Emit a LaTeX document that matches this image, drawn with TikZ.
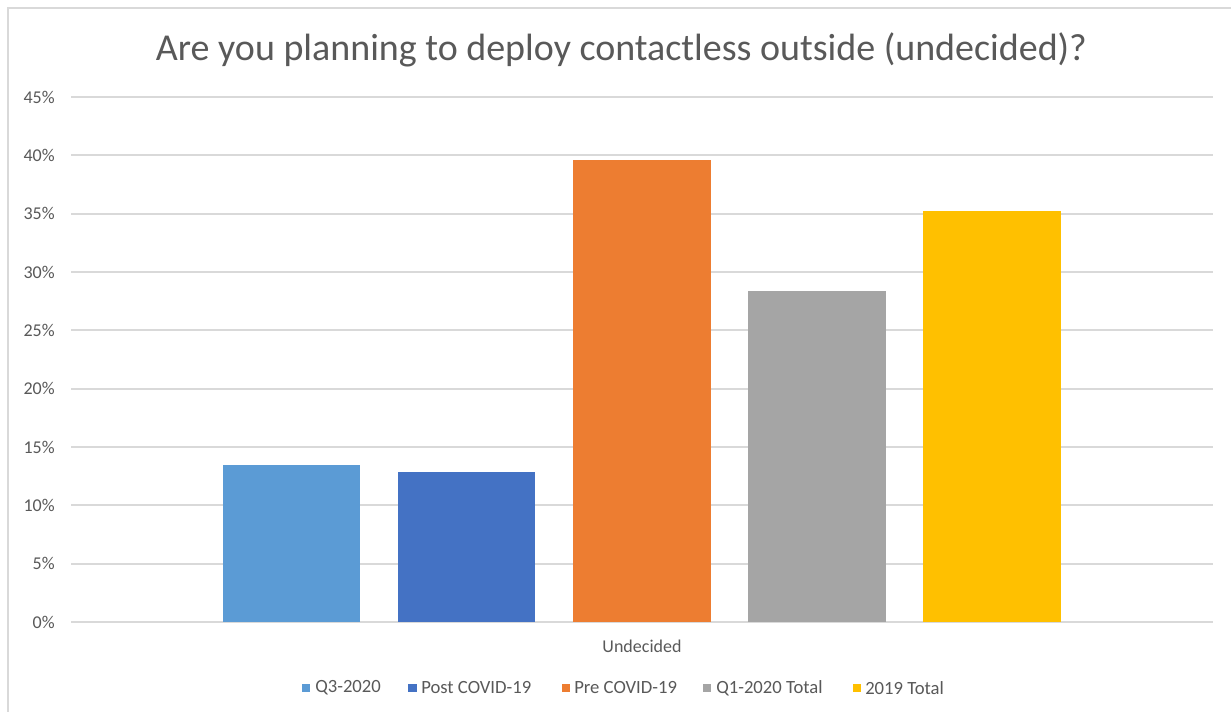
\documentclass[tikz,border=0pt]{standalone}
\usepackage{fontspec}
\setmainfont{Carlito}
\definecolor{txt}{HTML}{595959}
\definecolor{grid}{HTML}{D9D9D9}
\definecolor{cQthree}{HTML}{5B9BD5}
\definecolor{cPost}{HTML}{4472C4}
\definecolor{cPre}{HTML}{ED7D31}
\definecolor{cQone}{HTML}{A5A5A5}
\definecolor{cNineteen}{HTML}{FFC000}
\begin{document}
\begin{tikzpicture}[x=0.75pt,y=-0.75pt,
  gridline/.style={draw=grid,line width=1.5pt},
  ylab/.style={anchor=east,text=txt,font=\fontsize{13.5}{15}\selectfont,inner sep=0pt},
  legtext/.style={anchor=west,text=txt,font=\fontsize{14}{16}\selectfont,inner sep=0pt},
  legsq/.style={minimum size=6.3pt,inner sep=0pt,draw=none}]
\useasboundingbox (0,0) rectangle (1231,712);
\fill[white] (0,0) rectangle (1231,712);
\draw[grid,line width=1.5pt] (8,720) -- (8,8) -- (1240,8);
% title
\node[text=txt,font=\fontsize{28.5}{32}\selectfont] (title) at (621.5,50) {Are you planning to deploy contactless outside (undecided)?};
% gridlines and labels
\foreach \i in {0,...,9}{
  \pgfmathsetmacro{\yy}{622-\i*58.333}
  \pgfmathtruncatemacro{\pp}{\i*5}
  \draw[gridline] (71,\yy) -- (1213,\yy);
  \node[ylab] (y\i) at (55,\yy) {\pp\%};
}
% bars
\fill[cQthree] (223,622) rectangle (360,465.5);
\fill[cPost] (398,622) rectangle (535,472.5);
\fill[cPre] (573,622) rectangle (711,160.5);
\fill[cQone] (748,622) rectangle (886,291.5);
\fill[cNineteen] (923,622) rectangle (1061,211.5);
% axis category
\node[text=txt,font=\fontsize{13.5}{15}\selectfont] (cat) at (642,646) {Undecided};
% legend
\node[legsq,fill=cQthree] (l1) at (306,688) {};
\node[legtext] (t1) at (315,688) {Q3-2020};
\node[legsq,fill=cPost] (l2) at (412.5,688) {};
\node[legtext] (t2) at (421,688) {Post COVID-19};
\node[legsq,fill=cPre] (l3) at (566,688) {};
\node[legtext] (t3) at (574,688) {Pre COVID-19};
\node[legsq,fill=cQone] (l4) at (707,688) {};
\node[legtext] (t4) at (716,688) {Q1-2020 Total};
\node[legsq,fill=cNineteen] (l5) at (857,688) {};
\node[legtext] (t5) at (865,688) {2019 Total};
\end{tikzpicture}
\end{document}
